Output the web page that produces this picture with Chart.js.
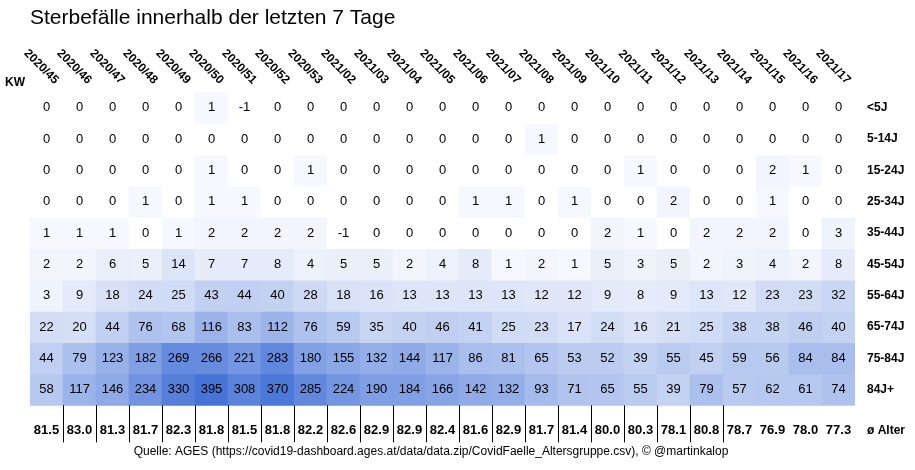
<!DOCTYPE html>
<html><head><meta charset="utf-8">
<script src="https://cdn.jsdelivr.net/npm/chart.js@4"></script>
<style>body{margin:0;background:#fff}</style></head>
<body><canvas id="c" width="915" height="470"></canvas>
<script>
const weeks=["2020/45","2020/46","2020/47","2020/48","2020/49","2020/50","2020/51","2020/52","2020/53","2021/02","2021/03","2021/04","2021/05","2021/06","2021/07","2021/08","2021/09","2021/10","2021/11","2021/12","2021/13","2021/14","2021/15","2021/16","2021/17"];
const groups=["<5J","5-14J","15-24J","25-34J","35-44J","45-54J","55-64J","65-74J","75-84J","84J+"];
const r0=[0,0,0,0,0,1,-1,0,0,0,0,0,0,0,0,0,0,0,0,0,0,0,0,0,0];
const r1=[0,0,0,0,0,0,0,0,0,0,0,0,0,0,0,1,0,0,0,0,0,0,0,0,0];
const r2=[0,0,0,0,0,1,0,0,1,0,0,0,0,0,0,0,0,0,1,0,0,0,2,1,0];
const r3=[0,0,0,1,0,1,1,0,0,0,0,0,0,1,1,0,1,0,0,2,0,0,1,0,0];
const r4=[1,1,1,0,1,2,2,2,2,-1,0,0,0,0,0,0,0,2,1,0,2,2,2,0,3];
const r5=[2,2,6,5,14,7,7,8,4,5,5,2,4,8,1,2,1,5,3,5,2,3,4,2,8];
const r6=[3,9,18,24,25,43,44,40,28,18,16,13,13,13,13,12,12,9,8,9,13,12,23,23,32];
const r7=[22,20,44,76,68,116,83,112,76,59,35,40,46,41,25,23,17,24,16,21,25,38,38,46,40];
const r8=[44,79,123,182,269,266,221,283,180,155,132,144,117,86,81,65,53,52,39,55,45,59,56,84,84];
const r9=[58,117,146,234,330,395,308,370,285,224,190,184,166,142,132,93,71,65,55,39,79,57,62,61,74];
const avgAge=[81.5,83.0,81.3,81.7,82.3,81.8,81.5,81.8,82.2,82.6,82.9,82.9,82.4,81.6,82.9,81.7,81.4,80.0,80.3,78.1,80.8,78.7,76.9,78.0,77.3];
const rows=[r0,r1,r2,r3,r4,r5,r6,r7,r8,r9];
const AVG_Y=10.3;
const maxV=395;
const FONT='"Liberation Sans"';
function col(v){const t=Math.sqrt(Math.max(0,v)/maxV);
 const a=[255,255,255],b=[70,115,215];
 return `rgb(${a.map((x,i)=>Math.round(x+(b[i]-x)*t)).join(',')})`;}
const datasets=rows.map((r,i)=>({data:r.map(()=>[i-0.5,i+0.5]),vals:r,backgroundColor:r.map(col),borderWidth:0,barPercentage:1,categoryPercentage:1,grouped:false}));
const textPlugin={id:'txt',afterDatasetsDraw(ch){
 const ctx=ch.ctx,xs=ch.scales.x,ys=ch.scales.y;
 ctx.save();ctx.textAlign='center';ctx.textBaseline='middle';ctx.fillStyle='#000';
 ctx.font='13px '+FONT;
 rows.forEach((r,i)=>r.forEach((v,j)=>ctx.fillText(String(v),xs.getPixelForValue(j),ys.getPixelForValue(i))));
 ctx.font='bold 13px '+FONT;
 avgAge.forEach((v,j)=>ctx.fillText(v.toFixed(1),xs.getPixelForValue(j),ys.getPixelForValue(AVG_Y)));
 ctx.strokeStyle='#000';ctx.lineWidth=1;
 const yt=ys.getPixelForValue(9.5),yb=ys.getPixelForValue(AVG_Y)+12;
 for(let j=0;j<21;j++){const x=Math.round(xs.getPixelForValue(j+0.5))+0.5;ctx.beginPath();ctx.moveTo(x,yt);ctx.lineTo(x,yb);ctx.stroke();}
 // rotated week labels
 ctx.font='bold 12px '+FONT;ctx.textAlign='right';ctx.textBaseline='middle';
 xs.ticks.forEach((t,j)=>{ctx.save();ctx.translate(xs.getPixelForValue(j)+10,ch.chartArea.top-10);ctx.rotate(Math.PI/4);ctx.fillText(weeks[j],0,0);ctx.restore();});
 ctx.textAlign='left';
 ctx.fillText('KW',5,ch.chartArea.top-10);
 ctx.font='12px '+FONT;ctx.textAlign='center';
 ctx.fillText('Quelle: AGES (https://covid19-dashboard.ages.at/data/data.zip/CovidFaelle_Altersgruppe.csv), © @martinkalop',431,452);
 ctx.restore();}};
new Chart(document.getElementById('c'),{type:'bar',data:{labels:weeks,datasets},
 options:{responsive:false,devicePixelRatio:1,animation:false,
  layout:{padding:{left:30,right:6,top:0,bottom:24}},
  plugins:{legend:{display:false},tooltip:{enabled:false},
   title:{display:true,text:'Sterbefälle innerhalb der letzten 7 Tage',align:'start',color:'#000',font:{family:FONT,size:21,weight:'normal'},padding:{top:6,bottom:53}}},
  scales:{
   x:{position:'top',offset:true,grid:{display:false},border:{display:false},ticks:{display:false}},
   y:{type:'linear',position:'right',reverse:true,min:-0.5,max:10.8,grid:{display:false},border:{display:false},
      afterBuildTicks(s){s.ticks=[0,1,2,3,4,5,6,7,8,9,AVG_Y].map(v=>({value:v}));},
      afterFit(s){s.width=54;},
      ticks:{color:'#000',padding:4,font:{family:FONT,size:12,weight:'bold'},
       callback:(v)=>v===AVG_Y?'ø Alter':groups[v]}}}},
 plugins:[textPlugin]});
</script></body></html>
